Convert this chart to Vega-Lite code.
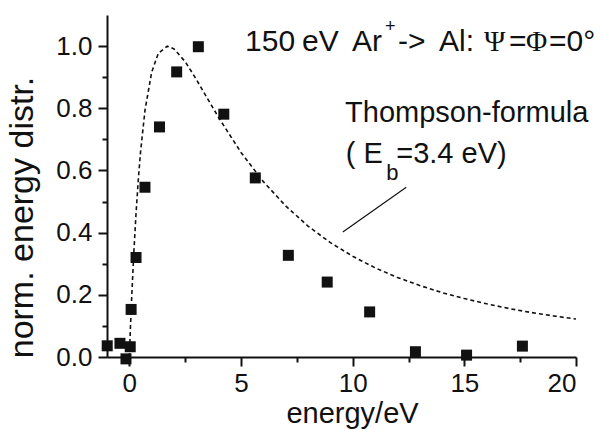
{
  "$schema": "https://vega.github.io/schema/vega-lite/v6.json",
  "width": 469,
  "height": 342,
  "autosize": "none",
  "padding": {"left": 107, "top": 15, "right": 27, "bottom": 73},
  "background": "white",
  "config": {
    "view": {"stroke": null},
    "font": "Liberation Sans",
    "axis": {"grid": false, "domainColor": "#111", "tickColor": "#111", "labelColor": "#111", "titleColor": "#111", "domainWidth": 2, "tickWidth": 2, "labelFont": "Liberation Sans", "titleFont": "Liberation Sans", "labelFontSize": 26, "titleFontWeight": "normal"}
  },
  "datasets": {
    "points": [
      {"E": -0.99, "d": 0.036}, {"E": -0.42, "d": 0.044}, {"E": -0.15, "d": -0.006}, {"E": 0.04, "d": 0.033},
      {"E": 0.08, "d": 0.153}, {"E": 0.3, "d": 0.32}, {"E": 0.7, "d": 0.546}, {"E": 1.35, "d": 0.74},
      {"E": 2.12, "d": 0.917}, {"E": 3.09, "d": 0.998}, {"E": 4.23, "d": 0.781}, {"E": 5.64, "d": 0.576},
      {"E": 7.12, "d": 0.327}, {"E": 8.86, "d": 0.241}, {"E": 10.76, "d": 0.145}, {"E": 12.81, "d": 0.017},
      {"E": 15.1, "d": 0.006}, {"E": 17.6, "d": 0.035}
    ],
    "curve": [
      {"E": 0, "f": 0}, {"E": 0.05, "f": 0.095}, {"E": 0.1, "f": 0.182}, {"E": 0.2, "f": 0.334}, {"E": 0.3, "f": 0.462},
      {"E": 0.4, "f": 0.569}, {"E": 0.5, "f": 0.658}, {"E": 0.7, "f": 0.793}, {"E": 1.0, "f": 0.916}, {"E": 1.3, "f": 0.977},
      {"E": 1.7, "f": 1.0}, {"E": 2.0, "f": 0.991}, {"E": 2.5, "f": 0.95}, {"E": 3.0, "f": 0.893}, {"E": 3.5, "f": 0.831},
      {"E": 4.0, "f": 0.77}, {"E": 5.0, "f": 0.658}, {"E": 6.0, "f": 0.564}, {"E": 7.0, "f": 0.486}, {"E": 8.0, "f": 0.421},
      {"E": 9.0, "f": 0.368}, {"E": 10.0, "f": 0.324}, {"E": 11.0, "f": 0.287}, {"E": 12.0, "f": 0.256}, {"E": 13.0, "f": 0.23},
      {"E": 14.0, "f": 0.207}, {"E": 15.0, "f": 0.188}, {"E": 16.0, "f": 0.171}, {"E": 17.0, "f": 0.156}, {"E": 18.0, "f": 0.143},
      {"E": 19.0, "f": 0.132}, {"E": 20.0, "f": 0.122}
    ],
    "topSans": [
      {"x": 5.18, "y": 0.984, "t": "150"},
      {"x": 7.73, "y": 0.984, "t": "eV"},
      {"x": 9.97, "y": 0.984, "t": "Ar"},
      {"x": 12.03, "y": 0.984, "t": "->"},
      {"x": 13.87, "y": 0.984, "t": "Al:"},
      {"x": 17.0, "y": 0.984, "t": "="},
      {"x": 18.79, "y": 0.984, "t": "=0°"}
    ],
    "topSerif": [
      {"x": 15.88, "y": 0.984, "t": "Ψ"},
      {"x": 17.76, "y": 0.984, "t": "Φ"}
    ],
    "sup": [{"x": 11.45, "y": 1.045, "t": "+"}],
    "labels": [
      {"x": 9.66, "y": 0.756, "t": "Thompson-formula"},
      {"x": 9.69, "y": 0.624, "t": "( E"},
      {"x": 11.95, "y": 0.624, "t": "=3.4 eV)"}
    ],
    "subs": [{"x": 11.5, "y": 0.569, "t": "b"}],
    "pointer": [{"x": 12.4, "y": 0.546, "x2": 9.56, "y2": 0.402}]
  },
  "layer": [
    {
      "data": {"name": "curve"},
      "mark": {"type": "line", "color": "#111", "strokeWidth": 1.6, "strokeDash": [4, 3]},
      "encoding": {
        "x": {"field": "E", "type": "quantitative", "scale": {"domain": [-1, 20], "nice": false, "zero": false},
              "axis": {"orient": "bottom", "values": [0, 5, 10, 15, 20], "tickSize": 9, "labelPadding": 4, "title": "energy/eV", "titleFontSize": 29, "titlePadding": 3, "titleX": 245}},
        "y": {"field": "f", "type": "quantitative", "scale": {"domain": [0, 1.1], "nice": false},
              "axis": {"orient": "left", "values": [0, 0.2, 0.4, 0.6, 0.8, 1.0], "format": ".1f", "tickSize": 9, "labelPadding": 6, "title": "norm. energy distr.", "titleFontSize": 34, "titlePadding": 16, "titleY": 202}}
      }
    },
    {
      "data": {"name": "curve"},
      "mark": {"type": "line", "opacity": 0},
      "encoding": {
        "x": {"field": "E", "type": "quantitative", "axis": {"orient": "bottom", "values": [2.5, 7.5, 12.5, 17.5], "tickSize": 5, "labels": false, "domain": false, "title": null}},
        "y": {"field": "f", "type": "quantitative", "axis": {"orient": "left", "values": [0.1, 0.3, 0.5, 0.7, 0.9], "tickSize": 5, "labels": false, "domain": false, "title": null}}
      }
    },
    {
      "data": {"name": "points"},
      "mark": {"type": "point", "shape": "square", "filled": true, "color": "#111", "size": 121, "opacity": 1},
      "encoding": {
        "x": {"field": "E", "type": "quantitative", "axis": null},
        "y": {"field": "d", "type": "quantitative", "axis": null}
      }
    },
    {
      "data": {"name": "pointer"},
      "mark": {"type": "rule", "color": "#111", "strokeWidth": 1.2},
      "encoding": {
        "x": {"field": "x", "type": "quantitative", "axis": null},
        "y": {"field": "y", "type": "quantitative", "axis": null},
        "x2": {"field": "x2"},
        "y2": {"field": "y2"}
      }
    },
    {
      "data": {"name": "topSans"},
      "mark": {"type": "text", "align": "left", "baseline": "alphabetic", "fontSize": 30, "color": "#111", "font": "Liberation Sans"},
      "encoding": {
        "x": {"field": "x", "type": "quantitative", "axis": null},
        "y": {"field": "y", "type": "quantitative", "axis": null},
        "text": {"field": "t"}
      }
    },
    {
      "data": {"name": "topSerif"},
      "mark": {"type": "text", "align": "left", "baseline": "alphabetic", "fontSize": 29, "color": "#111", "font": "Liberation Serif"},
      "encoding": {
        "x": {"field": "x", "type": "quantitative", "axis": null},
        "y": {"field": "y", "type": "quantitative", "axis": null},
        "text": {"field": "t"}
      }
    },
    {
      "data": {"name": "sup"},
      "mark": {"type": "text", "align": "left", "baseline": "alphabetic", "fontSize": 18, "color": "#111", "font": "Liberation Sans"},
      "encoding": {
        "x": {"field": "x", "type": "quantitative", "axis": null},
        "y": {"field": "y", "type": "quantitative", "axis": null},
        "text": {"field": "t"}
      }
    },
    {
      "data": {"name": "labels"},
      "mark": {"type": "text", "align": "left", "baseline": "alphabetic", "fontSize": 29, "color": "#111", "font": "Liberation Sans"},
      "encoding": {
        "x": {"field": "x", "type": "quantitative", "axis": null},
        "y": {"field": "y", "type": "quantitative", "axis": null},
        "text": {"field": "t"}
      }
    },
    {
      "data": {"name": "subs"},
      "mark": {"type": "text", "align": "left", "baseline": "alphabetic", "fontSize": 22, "color": "#111", "font": "Liberation Sans"},
      "encoding": {
        "x": {"field": "x", "type": "quantitative", "axis": null},
        "y": {"field": "y", "type": "quantitative", "axis": null},
        "text": {"field": "t"}
      }
    }
  ],
  "resolve": {"axis": {"x": "independent", "y": "independent"}}
}
